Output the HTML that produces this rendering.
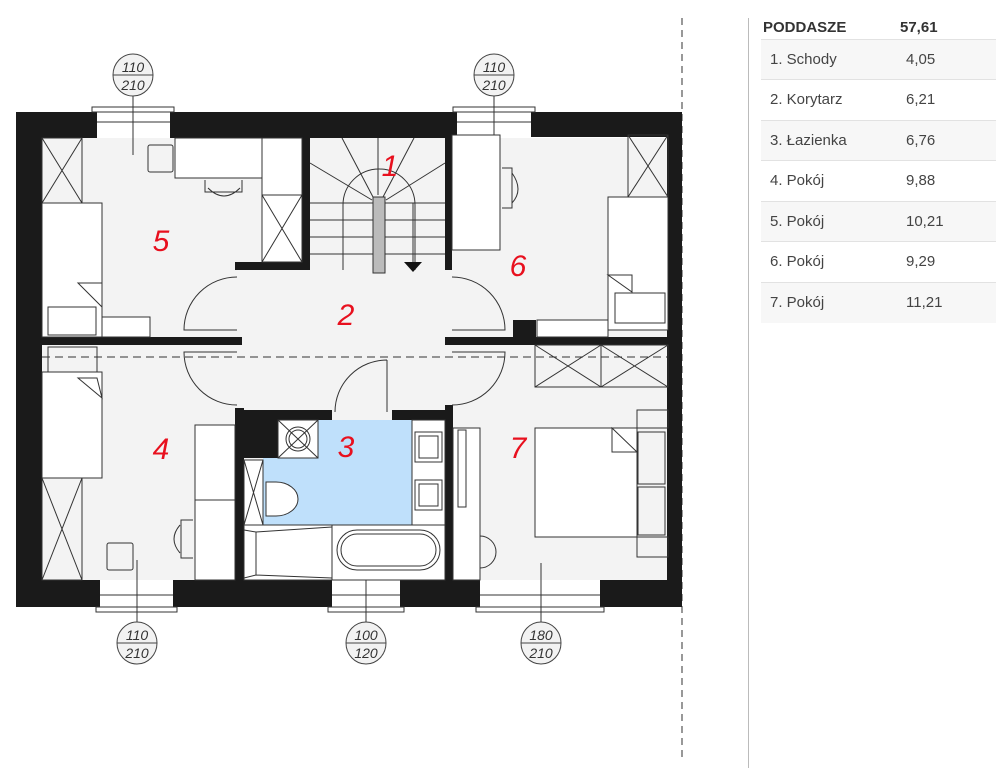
<!DOCTYPE html>
<html><head><meta charset="utf-8"><style>
html,body{margin:0;padding:0;background:#fff;}
body{width:996px;height:768px;position:relative;overflow:hidden;font-family:"Liberation Sans",sans-serif;}
svg{position:absolute;left:0;top:0;}
.tbl{position:absolute;left:748px;top:18px;width:248px;height:750px;border-left:1px solid #bbb;}
.hd{position:absolute;left:14px;top:0;font-weight:bold;font-size:15px;color:#333;}
.hv{position:absolute;left:151px;top:0;font-weight:bold;font-size:15px;color:#333;}
.row{position:absolute;left:12px;width:236px;height:40px;border-top:1px solid #e2e2e2;font-size:15px;color:#444;}
.row.s{background:#f7f7f7;}
.row span{position:absolute;top:11px;}
</style></head><body>
<svg width="996" height="768" viewBox="0 0 996 768" xmlns="http://www.w3.org/2000/svg" font-family="Liberation Sans, sans-serif">
<line x1="682" y1="18" x2="682" y2="760" stroke="#555" stroke-width="1.2" stroke-dasharray="7,5"/>
<!-- floor -->
<rect x="42" y="138" width="626" height="442" fill="#f3f3f3"/>
<!-- bathroom blue -->
<path d="M318 420 H412 V525 H263 V458 H318 Z" fill="#bfe0fb"/>
<g fill="#1a1a1a">
<!-- outer walls -->
<rect x="16" y="112" width="26" height="495"/>
<rect x="16" y="112" width="81" height="26"/>
<rect x="170" y="112" width="287" height="26"/>
<rect x="531" y="112" width="151" height="25"/>
<rect x="667" y="112" width="15" height="495"/>
<rect x="16" y="580" width="84" height="27"/>
<rect x="173" y="580" width="159" height="27"/>
<rect x="400" y="580" width="80" height="27"/>
<rect x="600" y="580" width="82" height="27"/>
<!-- interior -->
<rect x="302" y="138" width="8" height="132"/>
<rect x="235" y="262" width="75" height="8"/>
<rect x="445" y="138" width="7" height="132"/>
<rect x="42" y="337" width="200" height="8"/>
<rect x="445" y="337" width="223" height="8"/>
<rect x="513" y="320" width="23" height="25"/>
<rect x="235" y="408" width="9" height="172"/>
<rect x="235" y="410" width="97" height="10"/>
<rect x="243" y="420" width="35" height="38"/>
<rect x="392" y="410" width="61" height="10"/>
<rect x="445" y="405" width="8" height="175"/>
</g>
<g fill="none" stroke="#333" stroke-width="1">
<!-- windows -->
<rect x="92" y="107" width="82" height="5"/><line x1="97" y1="122" x2="170" y2="122"/>
<rect x="453" y="107" width="82" height="5"/><line x1="457" y1="122" x2="531" y2="122"/>
<rect x="96" y="607" width="81" height="5"/><line x1="100" y1="595" x2="173" y2="595"/>
<rect x="328" y="607" width="76" height="5"/><line x1="332" y1="595" x2="400" y2="595"/>
<rect x="476" y="607" width="128" height="5"/><line x1="480" y1="595" x2="600" y2="595"/>
<!-- tag lines -->
<line x1="133" y1="95" x2="133" y2="155"/><line x1="494" y1="95" x2="494" y2="155"/>
<line x1="137" y1="560" x2="137" y2="622"/><line x1="366" y1="565" x2="366" y2="622"/><line x1="541" y1="563" x2="541" y2="622"/>
<!-- dashed -->
<line x1="42" y1="357" x2="667" y2="357" stroke-dasharray="8,5"/>
<!-- doors -->
<path d="M237 277 A53 53 0 0 0 184 330 H237"/>
<path d="M237 405 A53 53 0 0 1 184 352 H237"/>
<path d="M452 277 A53 53 0 0 1 505 330 H452"/>
<path d="M452 405 A53 53 0 0 0 505 352 H452"/>
<path d="M387 360 A52 52 0 0 0 335 412 M387 360 V412"/>
<!-- stairs -->
<line x1="310" y1="203" x2="445" y2="203"/><line x1="310" y1="220" x2="445" y2="220"/>
<line x1="310" y1="237" x2="445" y2="237"/><line x1="310" y1="254" x2="445" y2="254"/>
<path d="M343 270 V205 A36 36 0 0 1 415 205 V270"/>
<line x1="373" y1="197" x2="342" y2="138"/><line x1="378" y1="195" x2="378" y2="138"/><line x1="383" y1="197" x2="414" y2="138"/>
<line x1="372" y1="200" x2="310" y2="163"/><line x1="386" y1="200" x2="445" y2="163"/>
<rect x="373" y="197" width="12" height="76" fill="#bbb"/>
<line x1="413" y1="203" x2="413" y2="262"/>
<!-- room5 -->
<rect x="42" y="138" width="40" height="65"/><path d="M42 138 L82 203 M82 138 L42 203"/>
<rect x="42" y="203" width="60" height="134" fill="#fff"/>
<rect x="48" y="307" width="48" height="28"/><path d="M78 283 H102 V307 Z"/>
<rect x="102" y="317" width="48" height="20" fill="#fff"/>
<rect x="175" y="138" width="87" height="40" fill="#fff"/>
<rect x="262" y="138" width="40" height="57" fill="#fff"/>
<rect x="262" y="195" width="40" height="67" fill="#fff"/><path d="M262 195 L302 262 M302 195 L262 262"/>
<rect x="148" y="145" width="25" height="27" rx="2"/>
<path d="M205 180 v12 h37 v-12 M208 188 q16 16 32 0"/>
<!-- room4 -->
<rect x="48" y="347" width="49" height="31"/>
<rect x="42" y="372" width="60" height="106" fill="#fff"/><path d="M78 378 H97 L102 398 Z"/>
<rect x="42" y="478" width="40" height="102"/><path d="M42 478 L82 580 M82 478 L42 580"/>
<rect x="195" y="425" width="40" height="75" fill="#fff"/><rect x="195" y="500" width="40" height="80" fill="#fff"/>
<path d="M193 520 h-12 v38 h12 M180 525 q-12 14 0 28"/>
<rect x="107" y="543" width="26" height="27" rx="2"/>
<!-- bathroom -->
<rect x="278" y="420" width="40" height="38" fill="#fff"/><path d="M278 420 L318 458 M318 420 L278 458"/>
<circle cx="298" cy="439" r="12"/><circle cx="298" cy="439" r="9"/>
<rect x="244" y="460" width="19" height="65" fill="#fff"/><path d="M244 460 L263 525 M263 460 L244 525"/>
<path d="M266 482 h10 a22 17 0 0 1 0 34 h-10 Z" fill="#fff"/>
<rect x="412" y="420" width="33" height="105" fill="#fff"/>
<rect x="415" y="432" width="27" height="30"/><rect x="419" y="436" width="19" height="22"/>
<rect x="415" y="480" width="27" height="30"/><rect x="419" y="484" width="19" height="22"/>
<rect x="244" y="525" width="88" height="55" fill="#fff"/><path d="M244 530 L256 532 V575 L244 578 M256 532 L332 527 M256 575 L332 578"/>
<rect x="332" y="525" width="113" height="55" fill="#fff"/>
<rect x="337" y="530" width="103" height="40" rx="20" fill="#fff"/><rect x="341" y="534" width="95" height="32" rx="16"/>
<!-- room6 -->
<rect x="452" y="135" width="48" height="115" fill="#fff"/>
<path d="M502 168 h10 v40 h-10 M512 173 q12 17 0 30"/>
<rect x="628" y="135" width="40" height="62"/><path d="M628 135 L668 197 M668 135 L628 197"/>
<rect x="608" y="197" width="60" height="133" fill="#fff"/>
<rect x="615" y="293" width="50" height="30"/><path d="M608 275 H632 V292 Z"/>
<rect x="537" y="320" width="71" height="17" fill="#fff"/>
<!-- room7 -->
<rect x="535" y="345" width="133" height="42"/><line x1="601" y1="345" x2="601" y2="387"/>
<path d="M535 345 L601 387 M601 345 L535 387 M601 345 L668 387 M668 345 L601 387"/>
<rect x="535" y="428" width="102" height="109" fill="#fff"/><path d="M612 428 L637 452 H612 Z"/>
<rect x="637" y="410" width="31" height="18"/><rect x="637" y="537" width="31" height="20"/>
<rect x="638" y="432" width="27" height="52"/><rect x="638" y="487" width="27" height="48"/>
<rect x="453" y="428" width="27" height="152" fill="#fff"/><rect x="458" y="430" width="8" height="77"/>
<path d="M480 536 a16 16 0 0 1 0 32"/>
</g>
<path d="M404 262 h18 l-9 10 Z" fill="#111"/>
<!-- tags -->
<g fill="#f2f2f2" stroke="#444" stroke-width="1">
<ellipse cx="133" cy="75" rx="20" ry="21"/><ellipse cx="494" cy="75" rx="20" ry="21"/>
<ellipse cx="137" cy="643" rx="20" ry="21"/><ellipse cx="366" cy="643" rx="20" ry="21"/><ellipse cx="541" cy="643" rx="20" ry="21"/>
</g>
<g stroke="#444"><line x1="113" y1="75" x2="153" y2="75"/><line x1="474" y1="75" x2="514" y2="75"/><line x1="117" y1="643" x2="157" y2="643"/><line x1="346" y1="643" x2="386" y2="643"/><line x1="521" y1="643" x2="561" y2="643"/></g>
<g font-size="14" font-style="italic" fill="#333" text-anchor="middle">
<text x="133" y="72">110</text><text x="133" y="90">210</text>
<text x="494" y="72">110</text><text x="494" y="90">210</text>
<text x="137" y="640">110</text><text x="137" y="658">210</text>
<text x="366" y="640">100</text><text x="366" y="658">120</text>
<text x="541" y="640">180</text><text x="541" y="658">210</text>
</g>
<g font-size="30" font-style="italic" fill="#e8101e" text-anchor="middle">
<text x="390" y="176">1</text><text x="346" y="325">2</text><text x="346" y="457">3</text>
<text x="161" y="459">4</text><text x="161" y="251">5</text><text x="518" y="276">6</text><text x="518" y="458">7</text>
</g>
</svg>
<div class="tbl">
<div class="hd" style="top:1px">PODDASZE</div><div class="hv" style="top:1px">57,61</div>
<div class="row s" style="top:21px"><span style="left:9px">1. Schody</span><span style="left:145px">4,05</span></div>
<div class="row" style="top:61px"><span style="left:9px">2. Korytarz</span><span style="left:145px">6,21</span></div>
<div class="row s" style="top:102px"><span style="left:9px">3. Łazienka</span><span style="left:145px">6,76</span></div>
<div class="row" style="top:142px"><span style="left:9px">4. Pokój</span><span style="left:145px">9,88</span></div>
<div class="row s" style="top:183px"><span style="left:9px">5. Pokój</span><span style="left:145px">10,21</span></div>
<div class="row" style="top:223px"><span style="left:9px">6. Pokój</span><span style="left:145px">9,29</span></div>
<div class="row s" style="top:264px"><span style="left:9px">7. Pokój</span><span style="left:145px">11,21</span></div>
</div>
</body></html>
